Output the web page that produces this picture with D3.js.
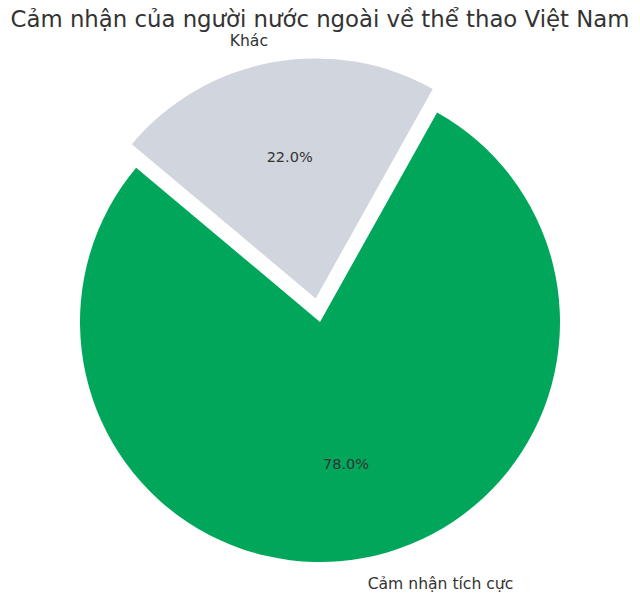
<!DOCTYPE html>
<html><head><meta charset="utf-8">
<script src="https://cdn.jsdelivr.net/npm/d3@7"></script>
<style>body{margin:0;background:#fff}svg{display:block}text{font-family:"DejaVu Sans",sans-serif}</style>
</head><body>
<svg id="c" width="640" height="597"></svg>
<script>
const title = "Cảm nhận của người nước ngoài về thể thao Việt Nam";
const categories = ["Cảm nhận tích cực", "Khác"];
const values = [78, 22];
const colors = ["#00A65A", "#D1D5DE"];
const explode = [0, 0.1];

const svg = d3.select("#c");
const cx = 320, cy = 322, R = 240;
const startDeg = 140; // matplotlib startangle, counter-clockwise

const total = d3.sum(values);
const toRad = d => d * Math.PI / 180;
let acc = startDeg;
const slices = values.map((v, i) => {
  const a0 = acc, a1 = acc + v / total * 360;
  acc = a1;
  return {i, v, a0, a1};
});
const arc = d3.arc().innerRadius(0).outerRadius(R);
const g = svg.append("g");
slices.forEach(s => {
  const mid = toRad((s.a0 + s.a1) / 2);
  const ox = explode[s.i] * R * Math.cos(mid), oy = -explode[s.i] * R * Math.sin(mid);
  const sa = toRad(90 - s.a1), ea = toRad(90 - s.a0);
  g.append("path")
    .attr("d", arc({startAngle: sa, endAngle: ea}))
    .attr("transform", `translate(${cx + ox},${cy + oy})`)
    .attr("fill", colors[s.i]);
  const lx = cx + ox + 1.1 * R * Math.cos(mid), ly = cy + oy - 1.1 * R * Math.sin(mid);
  g.append("text").attr("x", lx).attr("y", ly).attr("dy", "0.45em")
    .attr("text-anchor", Math.cos(mid) < 0 ? "end" : "start")
    .attr("font-size", 15.6).attr("fill", "#333")
    .text(categories[s.i]);
  const px = cx + ox + 0.6 * R * Math.cos(mid), py = cy + oy - 0.6 * R * Math.sin(mid);
  g.append("text").attr("x", px).attr("y", py).attr("dy", "0.35em")
    .attr("text-anchor", "middle").attr("font-size", 14.5).attr("fill", "#333")
    .text(d3.format(".1f")(s.v / total * 100) + "%");
});
svg.append("text").attr("x", 320).attr("y", 27).attr("text-anchor", "middle")
  .attr("font-size", 22.8).attr("fill", "#333").text(title);
</script>
</body></html>
